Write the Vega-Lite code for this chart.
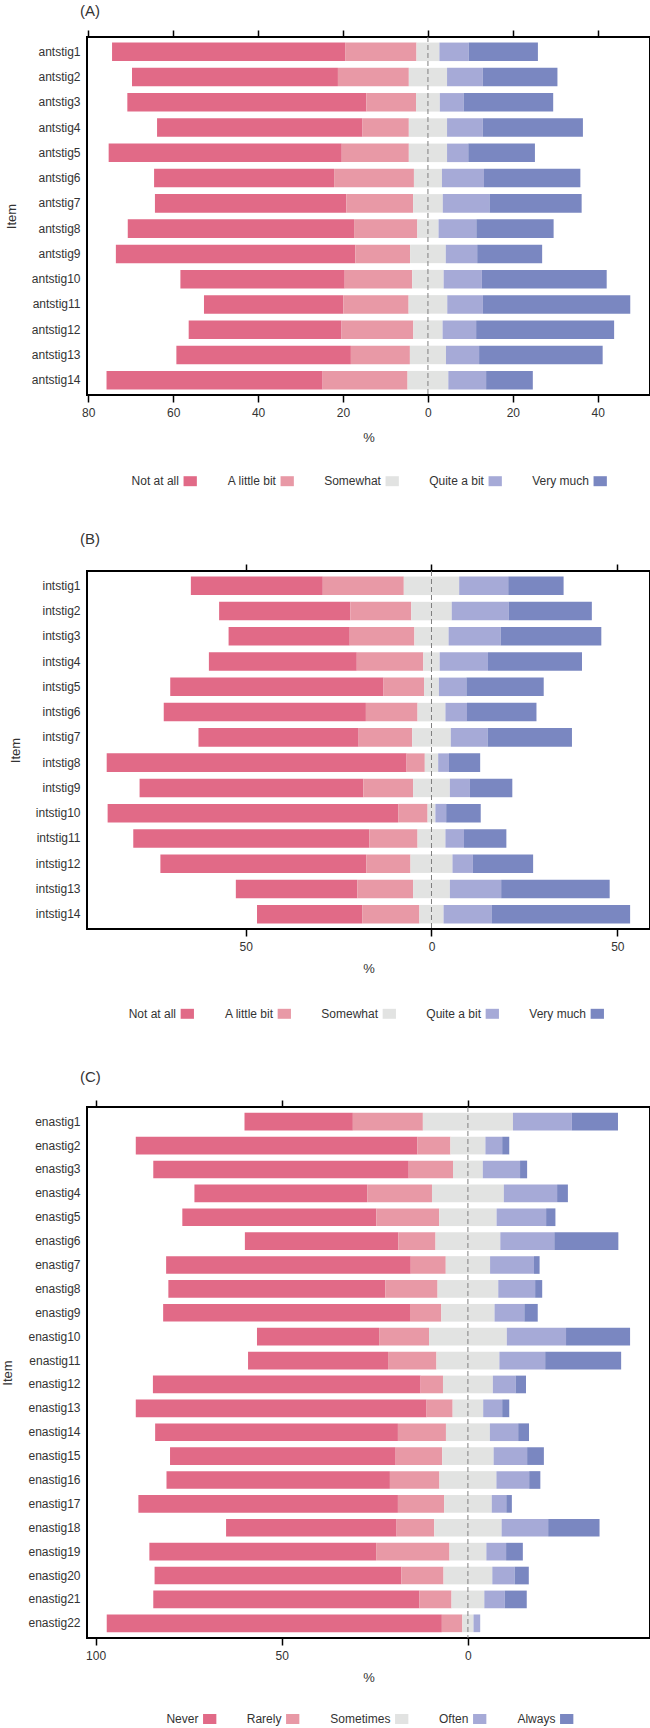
{
  "$schema": "https://vega.github.io/schema/vega-lite/v6.json",
  "padding": {"left": 0, "top": 3, "right": 0, "bottom": 0},
  "config": {
    "font": "Liberation Sans",
    "view": {"stroke": "#000000", "strokeWidth": 2},
    "axis": {
      "labelFont": "Liberation Sans", "titleFont": "Liberation Sans",
      "labelFontSize": 12, "titleFontSize": 13, "titleFontWeight": "normal",
      "labelColor": "#333333", "titleColor": "#333333", "grid": false
    },
    "legend": {"labelFont": "Liberation Sans", "labelFontSize": 12, "labelColor": "#333333"},
    "title": {"font": "Liberation Sans", "fontSize": 15, "fontWeight": "normal", "color": "#333333", "anchor": "start", "frame": "group", "dx": -7, "offset": 10}
  },
  "datasets": {
    "ant": [
      {"item":"antstig1","response":"Not at all","code":1,"pct":-54.9},{"item":"antstig1","response":"A little bit","code":2,"pct":-16.8},{"item":"antstig1","response":"Somewhat","code":3,"pct":-2.7},{"item":"antstig1","response":"Somewhat","code":3,"pct":2.7},{"item":"antstig1","response":"Quite a bit","code":4,"pct":6.9},{"item":"antstig1","response":"Very much","code":5,"pct":16.3},
      {"item":"antstig2","response":"Not at all","code":1,"pct":-48.5},{"item":"antstig2","response":"A little bit","code":2,"pct":-16.7},{"item":"antstig2","response":"Somewhat","code":3,"pct":-4.5},{"item":"antstig2","response":"Somewhat","code":3,"pct":4.5},{"item":"antstig2","response":"Quite a bit","code":4,"pct":8.4},{"item":"antstig2","response":"Very much","code":5,"pct":17.6},
      {"item":"antstig3","response":"Not at all","code":1,"pct":-56.3},{"item":"antstig3","response":"A little bit","code":2,"pct":-11.7},{"item":"antstig3","response":"Somewhat","code":3,"pct":-2.8},{"item":"antstig3","response":"Somewhat","code":3,"pct":2.8},{"item":"antstig3","response":"Quite a bit","code":4,"pct":5.6},{"item":"antstig3","response":"Very much","code":5,"pct":21.1},
      {"item":"antstig4","response":"Not at all","code":1,"pct":-48.4},{"item":"antstig4","response":"A little bit","code":2,"pct":-10.9},{"item":"antstig4","response":"Somewhat","code":3,"pct":-4.5},{"item":"antstig4","response":"Somewhat","code":3,"pct":4.5},{"item":"antstig4","response":"Quite a bit","code":4,"pct":8.4},{"item":"antstig4","response":"Very much","code":5,"pct":23.6},
      {"item":"antstig5","response":"Not at all","code":1,"pct":-54.9},{"item":"antstig5","response":"A little bit","code":2,"pct":-15.8},{"item":"antstig5","response":"Somewhat","code":3,"pct":-4.5},{"item":"antstig5","response":"Somewhat","code":3,"pct":4.5},{"item":"antstig5","response":"Quite a bit","code":4,"pct":5.0},{"item":"antstig5","response":"Very much","code":5,"pct":15.7},
      {"item":"antstig6","response":"Not at all","code":1,"pct":-42.4},{"item":"antstig6","response":"A little bit","code":2,"pct":-18.8},{"item":"antstig6","response":"Somewhat","code":3,"pct":-3.3},{"item":"antstig6","response":"Somewhat","code":3,"pct":3.3},{"item":"antstig6","response":"Quite a bit","code":4,"pct":9.9},{"item":"antstig6","response":"Very much","code":5,"pct":22.7},
      {"item":"antstig7","response":"Not at all","code":1,"pct":-45.1},{"item":"antstig7","response":"A little bit","code":2,"pct":-15.7},{"item":"antstig7","response":"Somewhat","code":3,"pct":-3.5},{"item":"antstig7","response":"Somewhat","code":3,"pct":3.5},{"item":"antstig7","response":"Quite a bit","code":4,"pct":11.0},{"item":"antstig7","response":"Very much","code":5,"pct":21.7},
      {"item":"antstig8","response":"Not at all","code":1,"pct":-53.3},{"item":"antstig8","response":"A little bit","code":2,"pct":-14.9},{"item":"antstig8","response":"Somewhat","code":3,"pct":-2.5},{"item":"antstig8","response":"Somewhat","code":3,"pct":2.5},{"item":"antstig8","response":"Quite a bit","code":4,"pct":8.9},{"item":"antstig8","response":"Very much","code":5,"pct":18.2},
      {"item":"antstig9","response":"Not at all","code":1,"pct":-56.4},{"item":"antstig9","response":"A little bit","code":2,"pct":-12.9},{"item":"antstig9","response":"Somewhat","code":3,"pct":-4.2},{"item":"antstig9","response":"Somewhat","code":3,"pct":4.2},{"item":"antstig9","response":"Quite a bit","code":4,"pct":7.4},{"item":"antstig9","response":"Very much","code":5,"pct":15.3},
      {"item":"antstig10","response":"Not at all","code":1,"pct":-38.7},{"item":"antstig10","response":"A little bit","code":2,"pct":-15.9},{"item":"antstig10","response":"Somewhat","code":3,"pct":-3.7},{"item":"antstig10","response":"Somewhat","code":3,"pct":3.7},{"item":"antstig10","response":"Quite a bit","code":4,"pct":9.0},{"item":"antstig10","response":"Very much","code":5,"pct":29.4},
      {"item":"antstig11","response":"Not at all","code":1,"pct":-32.8},{"item":"antstig11","response":"A little bit","code":2,"pct":-15.4},{"item":"antstig11","response":"Somewhat","code":3,"pct":-4.55},{"item":"antstig11","response":"Somewhat","code":3,"pct":4.55},{"item":"antstig11","response":"Quite a bit","code":4,"pct":8.4},{"item":"antstig11","response":"Very much","code":5,"pct":34.7},
      {"item":"antstig12","response":"Not at all","code":1,"pct":-36.0},{"item":"antstig12","response":"A little bit","code":2,"pct":-16.9},{"item":"antstig12","response":"Somewhat","code":3,"pct":-3.45},{"item":"antstig12","response":"Somewhat","code":3,"pct":3.45},{"item":"antstig12","response":"Quite a bit","code":4,"pct":7.9},{"item":"antstig12","response":"Very much","code":5,"pct":32.5},
      {"item":"antstig13","response":"Not at all","code":1,"pct":-41.1},{"item":"antstig13","response":"A little bit","code":2,"pct":-13.9},{"item":"antstig13","response":"Somewhat","code":3,"pct":-4.25},{"item":"antstig13","response":"Somewhat","code":3,"pct":4.25},{"item":"antstig13","response":"Quite a bit","code":4,"pct":7.8},{"item":"antstig13","response":"Very much","code":5,"pct":29.1},
      {"item":"antstig14","response":"Not at all","code":1,"pct":-50.9},{"item":"antstig14","response":"A little bit","code":2,"pct":-20.0},{"item":"antstig14","response":"Somewhat","code":3,"pct":-4.8},{"item":"antstig14","response":"Somewhat","code":3,"pct":4.8},{"item":"antstig14","response":"Quite a bit","code":4,"pct":8.9},{"item":"antstig14","response":"Very much","code":5,"pct":11.0}
    ],
    "int": [
      {"item":"intstig1","response":"Not at all","code":1,"pct":-35.5},{"item":"intstig1","response":"A little bit","code":2,"pct":-21.8},{"item":"intstig1","response":"Somewhat","code":3,"pct":-7.45},{"item":"intstig1","response":"Somewhat","code":3,"pct":7.45},{"item":"intstig1","response":"Quite a bit","code":4,"pct":13.2},{"item":"intstig1","response":"Very much","code":5,"pct":14.9},
      {"item":"intstig2","response":"Not at all","code":1,"pct":-35.3},{"item":"intstig2","response":"A little bit","code":2,"pct":-16.4},{"item":"intstig2","response":"Somewhat","code":3,"pct":-5.45},{"item":"intstig2","response":"Somewhat","code":3,"pct":5.45},{"item":"intstig2","response":"Quite a bit","code":4,"pct":15.3},{"item":"intstig2","response":"Very much","code":5,"pct":22.4},
      {"item":"intstig3","response":"Not at all","code":1,"pct":-32.6},{"item":"intstig3","response":"A little bit","code":2,"pct":-17.4},{"item":"intstig3","response":"Somewhat","code":3,"pct":-4.6},{"item":"intstig3","response":"Somewhat","code":3,"pct":4.6},{"item":"intstig3","response":"Quite a bit","code":4,"pct":14.0},{"item":"intstig3","response":"Very much","code":5,"pct":27.1},
      {"item":"intstig4","response":"Not at all","code":1,"pct":-39.8},{"item":"intstig4","response":"A little bit","code":2,"pct":-17.9},{"item":"intstig4","response":"Somewhat","code":3,"pct":-2.2},{"item":"intstig4","response":"Somewhat","code":3,"pct":2.2},{"item":"intstig4","response":"Quite a bit","code":4,"pct":13.0},{"item":"intstig4","response":"Very much","code":5,"pct":25.3},
      {"item":"intstig5","response":"Not at all","code":1,"pct":-57.4},{"item":"intstig5","response":"A little bit","code":2,"pct":-10.9},{"item":"intstig5","response":"Somewhat","code":3,"pct":-2.0},{"item":"intstig5","response":"Somewhat","code":3,"pct":2.0},{"item":"intstig5","response":"Quite a bit","code":4,"pct":7.4},{"item":"intstig5","response":"Very much","code":5,"pct":20.8},
      {"item":"intstig6","response":"Not at all","code":1,"pct":-54.4},{"item":"intstig6","response":"A little bit","code":2,"pct":-13.9},{"item":"intstig6","response":"Somewhat","code":3,"pct":-3.75},{"item":"intstig6","response":"Somewhat","code":3,"pct":3.75},{"item":"intstig6","response":"Quite a bit","code":4,"pct":5.8},{"item":"intstig6","response":"Very much","code":5,"pct":18.7},
      {"item":"intstig7","response":"Not at all","code":1,"pct":-43.1},{"item":"intstig7","response":"A little bit","code":2,"pct":-14.4},{"item":"intstig7","response":"Somewhat","code":3,"pct":-5.2},{"item":"intstig7","response":"Somewhat","code":3,"pct":5.2},{"item":"intstig7","response":"Quite a bit","code":4,"pct":9.9},{"item":"intstig7","response":"Very much","code":5,"pct":22.7},
      {"item":"intstig8","response":"Not at all","code":1,"pct":-80.7},{"item":"intstig8","response":"A little bit","code":2,"pct":-4.9},{"item":"intstig8","response":"Somewhat","code":3,"pct":-1.8},{"item":"intstig8","response":"Somewhat","code":3,"pct":1.8},{"item":"intstig8","response":"Quite a bit","code":4,"pct":2.9},{"item":"intstig8","response":"Very much","code":5,"pct":8.4},
      {"item":"intstig9","response":"Not at all","code":1,"pct":-60.2},{"item":"intstig9","response":"A little bit","code":2,"pct":-13.4},{"item":"intstig9","response":"Somewhat","code":3,"pct":-4.95},{"item":"intstig9","response":"Somewhat","code":3,"pct":4.95},{"item":"intstig9","response":"Quite a bit","code":4,"pct":5.4},{"item":"intstig9","response":"Very much","code":5,"pct":11.4},
      {"item":"intstig10","response":"Not at all","code":1,"pct":-78.2},{"item":"intstig10","response":"A little bit","code":2,"pct":-7.9},{"item":"intstig10","response":"Somewhat","code":3,"pct":-1.05},{"item":"intstig10","response":"Somewhat","code":3,"pct":1.05},{"item":"intstig10","response":"Quite a bit","code":4,"pct":2.9},{"item":"intstig10","response":"Very much","code":5,"pct":9.3},
      {"item":"intstig11","response":"Not at all","code":1,"pct":-63.5},{"item":"intstig11","response":"A little bit","code":2,"pct":-13.0},{"item":"intstig11","response":"Somewhat","code":3,"pct":-3.75},{"item":"intstig11","response":"Somewhat","code":3,"pct":3.75},{"item":"intstig11","response":"Quite a bit","code":4,"pct":5.0},{"item":"intstig11","response":"Very much","code":5,"pct":11.4},
      {"item":"intstig12","response":"Not at all","code":1,"pct":-55.4},{"item":"intstig12","response":"A little bit","code":2,"pct":-11.9},{"item":"intstig12","response":"Somewhat","code":3,"pct":-5.65},{"item":"intstig12","response":"Somewhat","code":3,"pct":5.65},{"item":"intstig12","response":"Quite a bit","code":4,"pct":5.5},{"item":"intstig12","response":"Very much","code":5,"pct":16.2},
      {"item":"intstig13","response":"Not at all","code":1,"pct":-32.7},{"item":"intstig13","response":"A little bit","code":2,"pct":-15.0},{"item":"intstig13","response":"Somewhat","code":3,"pct":-4.95},{"item":"intstig13","response":"Somewhat","code":3,"pct":4.95},{"item":"intstig13","response":"Quite a bit","code":4,"pct":13.8},{"item":"intstig13","response":"Very much","code":5,"pct":29.2},
      {"item":"intstig14","response":"Not at all","code":1,"pct":-28.3},{"item":"intstig14","response":"A little bit","code":2,"pct":-15.4},{"item":"intstig14","response":"Somewhat","code":3,"pct":-3.25},{"item":"intstig14","response":"Somewhat","code":3,"pct":3.25},{"item":"intstig14","response":"Quite a bit","code":4,"pct":12.9},{"item":"intstig14","response":"Very much","code":5,"pct":37.3}
    ],
    "ena": [
      {"item":"enastig1","response":"Never","code":1,"pct":-29.1},{"item":"enastig1","response":"Rarely","code":2,"pct":-18.8},{"item":"enastig1","response":"Sometimes","code":3,"pct":-12.1},{"item":"enastig1","response":"Sometimes","code":3,"pct":12.1},{"item":"enastig1","response":"Often","code":4,"pct":15.8},{"item":"enastig1","response":"Always","code":5,"pct":12.4},
      {"item":"enastig2","response":"Never","code":1,"pct":-75.6},{"item":"enastig2","response":"Rarely","code":2,"pct":-8.9},{"item":"enastig2","response":"Sometimes","code":3,"pct":-4.7},{"item":"enastig2","response":"Sometimes","code":3,"pct":4.7},{"item":"enastig2","response":"Often","code":4,"pct":4.5},{"item":"enastig2","response":"Always","code":5,"pct":1.9},
      {"item":"enastig3","response":"Never","code":1,"pct":-68.6},{"item":"enastig3","response":"Rarely","code":2,"pct":-11.9},{"item":"enastig3","response":"Sometimes","code":3,"pct":-4.0},{"item":"enastig3","response":"Sometimes","code":3,"pct":4.0},{"item":"enastig3","response":"Often","code":4,"pct":10.0},{"item":"enastig3","response":"Always","code":5,"pct":1.9},
      {"item":"enastig4","response":"Never","code":1,"pct":-46.4},{"item":"enastig4","response":"Rarely","code":2,"pct":-17.4},{"item":"enastig4","response":"Sometimes","code":3,"pct":-9.65},{"item":"enastig4","response":"Sometimes","code":3,"pct":9.65},{"item":"enastig4","response":"Often","code":4,"pct":14.3},{"item":"enastig4","response":"Always","code":5,"pct":2.9},
      {"item":"enastig5","response":"Never","code":1,"pct":-52.1},{"item":"enastig5","response":"Rarely","code":2,"pct":-16.9},{"item":"enastig5","response":"Sometimes","code":3,"pct":-7.7},{"item":"enastig5","response":"Sometimes","code":3,"pct":7.7},{"item":"enastig5","response":"Often","code":4,"pct":13.3},{"item":"enastig5","response":"Always","code":5,"pct":2.5},
      {"item":"enastig6","response":"Never","code":1,"pct":-41.2},{"item":"enastig6","response":"Rarely","code":2,"pct":-10.0},{"item":"enastig6","response":"Sometimes","code":3,"pct":-8.7},{"item":"enastig6","response":"Sometimes","code":3,"pct":8.7},{"item":"enastig6","response":"Often","code":4,"pct":14.5},{"item":"enastig6","response":"Always","code":5,"pct":17.2},
      {"item":"enastig7","response":"Never","code":1,"pct":-65.7},{"item":"enastig7","response":"Rarely","code":2,"pct":-9.4},{"item":"enastig7","response":"Sometimes","code":3,"pct":-5.95},{"item":"enastig7","response":"Sometimes","code":3,"pct":5.95},{"item":"enastig7","response":"Often","code":4,"pct":11.8},{"item":"enastig7","response":"Always","code":5,"pct":1.5},
      {"item":"enastig8","response":"Never","code":1,"pct":-58.3},{"item":"enastig8","response":"Rarely","code":2,"pct":-14.0},{"item":"enastig8","response":"Sometimes","code":3,"pct":-8.15},{"item":"enastig8","response":"Sometimes","code":3,"pct":8.15},{"item":"enastig8","response":"Often","code":4,"pct":9.9},{"item":"enastig8","response":"Always","code":5,"pct":1.9},
      {"item":"enastig9","response":"Never","code":1,"pct":-66.3},{"item":"enastig9","response":"Rarely","code":2,"pct":-8.4},{"item":"enastig9","response":"Sometimes","code":3,"pct":-7.15},{"item":"enastig9","response":"Sometimes","code":3,"pct":7.15},{"item":"enastig9","response":"Often","code":4,"pct":8.0},{"item":"enastig9","response":"Always","code":5,"pct":3.6},
      {"item":"enastig10","response":"Never","code":1,"pct":-32.8},{"item":"enastig10","response":"Rarely","code":2,"pct":-13.4},{"item":"enastig10","response":"Sometimes","code":3,"pct":-10.45},{"item":"enastig10","response":"Sometimes","code":3,"pct":10.45},{"item":"enastig10","response":"Often","code":4,"pct":15.9},{"item":"enastig10","response":"Always","code":5,"pct":17.2},
      {"item":"enastig11","response":"Never","code":1,"pct":-37.6},{"item":"enastig11","response":"Rarely","code":2,"pct":-13.0},{"item":"enastig11","response":"Sometimes","code":3,"pct":-8.45},{"item":"enastig11","response":"Sometimes","code":3,"pct":8.45},{"item":"enastig11","response":"Often","code":4,"pct":12.3},{"item":"enastig11","response":"Always","code":5,"pct":20.4},
      {"item":"enastig12","response":"Never","code":1,"pct":-71.9},{"item":"enastig12","response":"Rarely","code":2,"pct":-6.0},{"item":"enastig12","response":"Sometimes","code":3,"pct":-6.7},{"item":"enastig12","response":"Sometimes","code":3,"pct":6.7},{"item":"enastig12","response":"Often","code":4,"pct":6.1},{"item":"enastig12","response":"Always","code":5,"pct":2.8},
      {"item":"enastig13","response":"Never","code":1,"pct":-78.1},{"item":"enastig13","response":"Rarely","code":2,"pct":-7.0},{"item":"enastig13","response":"Sometimes","code":3,"pct":-4.1},{"item":"enastig13","response":"Sometimes","code":3,"pct":4.1},{"item":"enastig13","response":"Often","code":4,"pct":5.1},{"item":"enastig13","response":"Always","code":5,"pct":1.9},
      {"item":"enastig14","response":"Never","code":1,"pct":-65.2},{"item":"enastig14","response":"Rarely","code":2,"pct":-12.9},{"item":"enastig14","response":"Sometimes","code":3,"pct":-5.9},{"item":"enastig14","response":"Sometimes","code":3,"pct":5.9},{"item":"enastig14","response":"Often","code":4,"pct":7.6},{"item":"enastig14","response":"Always","code":5,"pct":2.9},
      {"item":"enastig15","response":"Never","code":1,"pct":-60.6},{"item":"enastig15","response":"Rarely","code":2,"pct":-12.5},{"item":"enastig15","response":"Sometimes","code":3,"pct":-6.9},{"item":"enastig15","response":"Sometimes","code":3,"pct":6.9},{"item":"enastig15","response":"Often","code":4,"pct":9.0},{"item":"enastig15","response":"Always","code":5,"pct":4.5},
      {"item":"enastig16","response":"Never","code":1,"pct":-60.0},{"item":"enastig16","response":"Rarely","code":2,"pct":-13.3},{"item":"enastig16","response":"Sometimes","code":3,"pct":-7.65},{"item":"enastig16","response":"Sometimes","code":3,"pct":7.65},{"item":"enastig16","response":"Often","code":4,"pct":8.8},{"item":"enastig16","response":"Always","code":5,"pct":3.0},
      {"item":"enastig17","response":"Never","code":1,"pct":-69.7},{"item":"enastig17","response":"Rarely","code":2,"pct":-12.4},{"item":"enastig17","response":"Sometimes","code":3,"pct":-6.4},{"item":"enastig17","response":"Sometimes","code":3,"pct":6.4},{"item":"enastig17","response":"Often","code":4,"pct":3.9},{"item":"enastig17","response":"Always","code":5,"pct":1.5},
      {"item":"enastig18","response":"Never","code":1,"pct":-45.8},{"item":"enastig18","response":"Rarely","code":2,"pct":-10.1},{"item":"enastig18","response":"Sometimes","code":3,"pct":-9.05},{"item":"enastig18","response":"Sometimes","code":3,"pct":9.05},{"item":"enastig18","response":"Often","code":4,"pct":12.5},{"item":"enastig18","response":"Always","code":5,"pct":13.8},
      {"item":"enastig19","response":"Never","code":1,"pct":-60.9},{"item":"enastig19","response":"Rarely","code":2,"pct":-19.7},{"item":"enastig19","response":"Sometimes","code":3,"pct":-4.95},{"item":"enastig19","response":"Sometimes","code":3,"pct":4.95},{"item":"enastig19","response":"Often","code":4,"pct":5.3},{"item":"enastig19","response":"Always","code":5,"pct":4.5},
      {"item":"enastig20","response":"Never","code":1,"pct":-66.3},{"item":"enastig20","response":"Rarely","code":2,"pct":-11.3},{"item":"enastig20","response":"Sometimes","code":3,"pct":-6.55},{"item":"enastig20","response":"Sometimes","code":3,"pct":6.55},{"item":"enastig20","response":"Often","code":4,"pct":6.0},{"item":"enastig20","response":"Always","code":5,"pct":3.8},
      {"item":"enastig21","response":"Never","code":1,"pct":-71.5},{"item":"enastig21","response":"Rarely","code":2,"pct":-8.6},{"item":"enastig21","response":"Sometimes","code":3,"pct":-4.4},{"item":"enastig21","response":"Sometimes","code":3,"pct":4.4},{"item":"enastig21","response":"Often","code":4,"pct":5.5},{"item":"enastig21","response":"Always","code":5,"pct":5.9},
      {"item":"enastig22","response":"Never","code":1,"pct":-90.0},{"item":"enastig22","response":"Rarely","code":2,"pct":-5.5},{"item":"enastig22","response":"Sometimes","code":3,"pct":-1.5},{"item":"enastig22","response":"Sometimes","code":3,"pct":1.5},{"item":"enastig22","response":"Often","code":4,"pct":1.8}
    ]
  },
  "resolve": {"scale": {"color": "independent"}, "legend": {"color": "independent"}},
  "spacing": 42,
  "vconcat": [
    {
      "title": {"text": "(A)"},
      "width": 563, "height": 358,
      "data": {"name": "ant"},
      "resolve": {"axis": {"x": "independent"}},
      "layer": [
        {
          "transform": [{"filter": "datum.pct < 0"}],
          "mark": "bar",
          "encoding": {
            "y": {"field": "item", "type": "nominal", "sort": null, "scale": {"paddingInner": 0.267, "paddingOuter": 0.22},
                  "axis": {"title": "Item", "ticks": false, "domain": false, "labelPadding": 7, "titlePadding": 13}},
            "x": {"field": "pct", "type": "quantitative", "stack": "zero",
                  "scale": {"domain": [-80.3, 52.3], "nice": false, "zero": false},
                  "axis": {"orient": "bottom", "values": [-80, -60, -40, -20, 0, 20, 40], "labelExpr": "abs(datum.value)", "title": "%", "domain": false, "tickSize": 7, "tickWidth": 1.5, "tickColor": "#000000", "labelPadding": 5, "titlePadding": 13}},
            "color": {"field": "response", "type": "nominal",
                      "scale": {"domain": ["Not at all", "A little bit", "Somewhat", "Quite a bit", "Very much"], "range": ["#E16A87", "#E899A6", "#E2E3E2", "#A6AAD7", "#7A87C1"]},
                      "legend": {"orient": "none", "direction": "horizontal", "legendX": 96.2, "legendY": 437.2, "title": null, "padding": 0,
                                 "symbolType": "M-1,-0.75H1V0.75H-1Z", "symbolSize": 177, "symbolStrokeWidth": 0,
                                 "labelAlign": "right", "labelOffset": -18.3, "columnPadding": 30}},
            "order": {"field": "code", "sort": "descending"}
          }
        },
        {
          "transform": [{"filter": "datum.pct > 0"}],
          "mark": "bar",
          "encoding": {
            "y": {"field": "item", "type": "nominal", "sort": null, "scale": {"paddingInner": 0.267, "paddingOuter": 0.22}},
            "x": {"field": "pct", "type": "quantitative", "stack": "zero", "scale": {"domain": [-80.3, 52.3], "nice": false, "zero": false}, "axis": null},
            "color": {"field": "response", "type": "nominal"},
            "order": {"field": "code", "sort": "ascending"}
          }
        },
        {
          "data": {"values": [{}]},
          "mark": {"type": "rule", "color": "#7f7f7f", "strokeWidth": 1, "strokeDash": [5, 3]},
          "encoding": {
            "x": {"datum": 0, "type": "quantitative", "scale": {"domain": [-80.3, 52.3], "nice": false, "zero": false},
                  "axis": {"orient": "top", "values": [-80, -60, -40, -20, 0, 20, 40], "labels": false, "title": null, "domain": false, "tickSize": 7, "tickWidth": 1.5, "tickColor": "#000000"}}
          }
        }
      ]
    },
    {
      "resolve": {"scale": {"color": "independent"}, "legend": {"color": "independent"}},
      "spacing": 48,
      "vconcat": [
        {
          "title": {"text": "(B)", "offset": 16},
          "width": 563, "height": 358,
          "data": {"name": "int"},
          "resolve": {"axis": {"x": "independent"}},
          "layer": [
            {
              "transform": [{"filter": "datum.pct < 0"}],
              "mark": "bar",
              "encoding": {
                "y": {"field": "item", "type": "nominal", "sort": null, "scale": {"paddingInner": 0.267, "paddingOuter": 0.22},
                      "axis": {"title": "Item", "ticks": false, "domain": false, "labelPadding": 7, "titlePadding": 13}},
                "x": {"field": "pct", "type": "quantitative", "stack": "zero",
                      "scale": {"domain": [-92.7, 58.8], "nice": false, "zero": false},
                      "axis": {"orient": "bottom", "values": [-50, 0, 50], "labelExpr": "abs(datum.value)", "title": "%", "domain": false, "tickSize": 7, "tickWidth": 1.5, "tickColor": "#000000", "labelPadding": 5, "titlePadding": 10}},
                "color": {"field": "response", "type": "nominal",
                          "scale": {"domain": ["Not at all", "A little bit", "Somewhat", "Quite a bit", "Very much"], "range": ["#E16A87", "#E899A6", "#E2E3E2", "#A6AAD7", "#7A87C1"]},
                          "legend": {"orient": "none", "direction": "horizontal", "legendX": 93.3, "legendY": 435.8, "title": null, "padding": 0,
                                     "symbolType": "M-1,-0.75H1V0.75H-1Z", "symbolSize": 177, "symbolStrokeWidth": 0,
                                     "labelAlign": "right", "labelOffset": -18.3, "columnPadding": 30}},
                "order": {"field": "code", "sort": "descending"}
              }
            },
            {
              "transform": [{"filter": "datum.pct > 0"}],
              "mark": "bar",
              "encoding": {
                "y": {"field": "item", "type": "nominal", "sort": null, "scale": {"paddingInner": 0.267, "paddingOuter": 0.22}},
                "x": {"field": "pct", "type": "quantitative", "stack": "zero", "scale": {"domain": [-92.7, 58.8], "nice": false, "zero": false}, "axis": null},
                "color": {"field": "response", "type": "nominal"},
                "order": {"field": "code", "sort": "ascending"}
              }
            },
            {
              "data": {"values": [{}]},
              "mark": {"type": "rule", "color": "#7f7f7f", "strokeWidth": 1, "strokeDash": [5, 3]},
              "encoding": {
                "x": {"datum": 0, "type": "quantitative", "scale": {"domain": [-92.7, 58.8], "nice": false, "zero": false},
                      "axis": {"orient": "top", "values": [-50, 0, 50], "labels": false, "title": null, "domain": false, "tickSize": 7, "tickWidth": 1.5, "tickColor": "#000000"}}
              }
            }
          ]
        },
        {
          "title": {"text": "(C)", "offset": 14},
          "width": 563, "height": 531,
          "data": {"name": "ena"},
          "resolve": {"axis": {"x": "independent"}},
          "layer": [
            {
              "transform": [{"filter": "datum.pct < 0"}],
              "mark": "bar",
              "encoding": {
                "y": {"field": "item", "type": "nominal", "sort": null, "scale": {"paddingInner": 0.26, "paddingOuter": 0.245},
                      "axis": {"title": "Item", "ticks": false, "domain": false, "labelPadding": 7, "titlePadding": 13}},
                "x": {"field": "pct", "type": "quantitative", "stack": "zero",
                      "scale": {"domain": [-102.3, 48.9], "nice": false, "zero": false},
                      "axis": {"orient": "bottom", "values": [-100, -50, 0], "labelExpr": "abs(datum.value)", "title": "%", "domain": false, "tickSize": 7, "tickWidth": 1.5, "tickColor": "#000000", "labelPadding": 5, "titlePadding": 10}},
                "color": {"field": "response", "type": "nominal",
                          "scale": {"domain": ["Never", "Rarely", "Sometimes", "Often", "Always"], "range": ["#E16A87", "#E899A6", "#E2E3E2", "#A6AAD7", "#7A87C1"]},
                          "legend": {"orient": "none", "direction": "horizontal", "legendX": 115.7, "legendY": 605, "title": null, "padding": 0,
                                     "symbolType": "M-1,-0.75H1V0.75H-1Z", "symbolSize": 177, "symbolStrokeWidth": 0,
                                     "labelAlign": "right", "labelOffset": -18.3, "columnPadding": 30}},
                "order": {"field": "code", "sort": "descending"}
              }
            },
            {
              "transform": [{"filter": "datum.pct > 0"}],
              "mark": "bar",
              "encoding": {
                "y": {"field": "item", "type": "nominal", "sort": null, "scale": {"paddingInner": 0.26, "paddingOuter": 0.245}},
                "x": {"field": "pct", "type": "quantitative", "stack": "zero", "scale": {"domain": [-102.3, 48.9], "nice": false, "zero": false}, "axis": null},
                "color": {"field": "response", "type": "nominal"},
                "order": {"field": "code", "sort": "ascending"}
              }
            },
            {
              "data": {"values": [{}]},
              "mark": {"type": "rule", "color": "#7f7f7f", "strokeWidth": 1, "strokeDash": [5, 3]},
              "encoding": {
                "x": {"datum": 0, "type": "quantitative", "scale": {"domain": [-102.3, 48.9], "nice": false, "zero": false},
                      "axis": {"orient": "top", "values": [-100, -50, 0], "labels": false, "title": null, "domain": false, "tickSize": 7, "tickWidth": 1.5, "tickColor": "#000000"}}
              }
            }
          ]
        }
      ]
    }
  ]
}
